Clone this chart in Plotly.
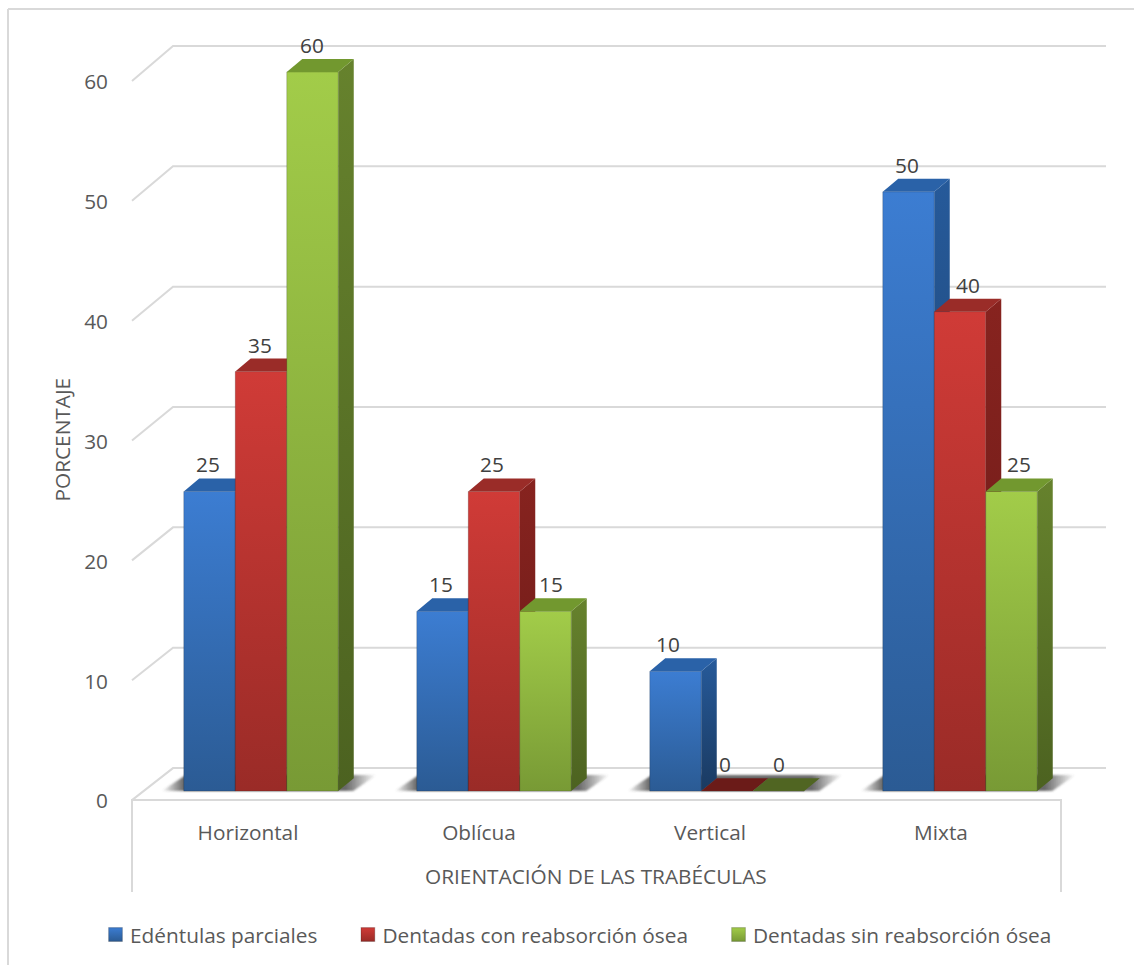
import json
import plotly.graph_objects as go

# Survey data: trabecular orientation by patient group (percent)
categories = ["Horizontal", "Oblícua", "Vertical", "Mixta"]
series_names = ["Edéntulas parciales", "Dentadas con reabsorción ósea", "Dentadas sin reabsorción ósea"]
edentulas = [25, 15, 10, 50]
con_reabsorcion = [35, 25, 0, 40]
sin_reabsorcion = [60, 15, 0, 25]
y_ticks = [0, 10, 20, 30, 40, 50, 60]
y_title = "PORCENTAJE"
x_title = "ORIENTACIÓN DE LAS TRABÉCULAS"

series_values = [edentulas, con_reabsorcion, sin_reabsorcion]

# Per-series palette: front top/bottom, side top/bottom, top face, top face of an empty bar
PALETTE = [
    dict(front=("#3C7DD2", "#2B5B94"), side=("#265A9A", "#1A3A61"), top="#2A62A8", flat="#1D4474"),
    dict(front=("#D03B37", "#9A2B27"), side=("#87231F", "#691A17"), top="#9A2C28", flat="#6B1B18"),
    dict(front=("#A2CC49", "#789A35"), side=("#66822D", "#4C6220"), top="#72982F", flat="#506522"),
]

PAGE_W, PAGE_H = 1134, 966
MARGIN = dict(l=112, r=20, t=20, b=66)
PLOT_W = PAGE_W - MARGIN["l"] - MARGIN["r"]
PLOT_H = PAGE_H - MARGIN["t"] - MARGIN["b"]
FONT = "Open Sans"
FONT_SIZE = 20.8

# Axis scales: one category is 233 px wide, one percentage point is 12 px tall
PX_PER_CAT = 233.0
PX_PER_UNIT = 12.0
X_RANGE = [-149.0 / PX_PER_CAT, 853.0 / PX_PER_CAT]
Y_RANGE = [-108.0 / PX_PER_UNIT, 772.0 / PX_PER_UNIT]

BAR_W = 51.5 / PX_PER_CAT
DEPTH_X = 15.5 / PX_PER_CAT
DEPTH_Y = 13.0 / PX_PER_UNIT

# Perspective frame: floor corners and wall extents in axis units
FRONT_Y = -0.75
WALL_Y = 1.92
WALL_SLOPE = 1.0042
FRONT_LEFT = -129.0 / PX_PER_CAT
BACK_LEFT = -88.0 / PX_PER_CAT
BACK_RIGHT = 845.0 / PX_PER_CAT
FRONT_RIGHT = 800.0 / PX_PER_CAT
FRAME_DROP = -101.0 / PX_PER_UNIT
GRID = "#D9D9D9"

gradients = {}
traces = []

# Walls and floor
for v in y_ticks:
    traces.append(go.Scatter(
        x=[FRONT_LEFT, BACK_LEFT, BACK_RIGHT],
        y=[v + FRONT_Y, v * WALL_SLOPE + WALL_Y, v * WALL_SLOPE + WALL_Y],
        mode="lines", line=dict(color=GRID, width=2), hoverinfo="skip",
        showlegend=False, zorder=-2,
    ))
traces.append(go.Scatter(
    x=[FRONT_LEFT, FRONT_LEFT, FRONT_RIGHT, FRONT_RIGHT],
    y=[FRAME_DROP, FRONT_Y, FRONT_Y, FRAME_DROP],
    mode="lines", line=dict(color=GRID, width=2), hoverinfo="skip",
    showlegend=False, zorder=-2,
))

# Soft floor shadow beneath each cluster, fading out on both sides
for c in range(len(categories)):
    left = c - 1.5 * BAR_W
    right = c + 1.5 * BAR_W
    sx = [left - 22 / PX_PER_CAT, left + 2 / PX_PER_CAT,
          right + 38 / PX_PER_CAT, right + 15 / PX_PER_CAT]
    sy = [0, DEPTH_Y * 1.25, DEPTH_Y * 1.25, 0]
    traces.append(go.Scatter(
        x=sx + sx[:1], y=sy + sy[:1], mode="lines", fill="toself",
        fillcolor="rgba(70,70,70,0.7)", line=dict(width=0), hoverinfo="skip",
        showlegend=False, zorder=-1, meta=dict(fill="shadow", blur=True),
    ))

# Clusters are painted left to right so a nearer bar hides its neighbour's side face
for s, (name, values, pal) in enumerate(zip(series_names, series_values, PALETTE)):
    xs = [c + (s - 1) * BAR_W for c in range(len(categories))]
    for n, face in (("front", pal["front"]), ("side", pal["side"])):
        gradients[f"{n}{s}"] = face

    traces.append(go.Bar(
        x=xs, y=values, width=BAR_W, name=name,
        marker=dict(color=pal["front"][0], line=dict(color="rgba(0,0,0,0.18)", width=1)),
        zorder=s + 1, meta=dict(fill=f"front{s}"),
        hovertemplate="%{y}<extra>" + name + "</extra>",
    ))
    for x, v in zip(xs, values):
        l, r = x - BAR_W / 2, x + BAR_W / 2
        # Right-hand side face
        traces.append(go.Scatter(
            x=[r, r + DEPTH_X, r + DEPTH_X, r, r],
            y=[0, DEPTH_Y, v + DEPTH_Y, v, 0],
            mode="lines", fill="toself", fillcolor=pal["side"][0], line=dict(width=0),
            hoverinfo="skip", showlegend=False, zorder=s + 1, meta=dict(fill=f"side{s}"),
        ))
        # Top face
        traces.append(go.Scatter(
            x=[l, l + DEPTH_X, r + DEPTH_X, r, l],
            y=[v, v + DEPTH_Y, v + DEPTH_Y, v, v],
            mode="lines", fill="toself", fillcolor=pal["top"] if v else pal["flat"],
            line=dict(width=0), hoverinfo="skip", showlegend=False, zorder=s + 1,
        ))

fig = go.Figure(traces)

# Value labels sit above each bar's top face
LABEL_LIFT = 27
LABEL_NUDGE = [[-2, -2, -8, -2], [-1, -2, -2, 8], [-1, 5, 0, 7]]
annotations = []
for s, values in enumerate(series_values):
    for c, v in enumerate(values):
        annotations.append(dict(
            x=c + (s - 1) * BAR_W, y=v, text=str(v), showarrow=False,
            xref="x", yref="y", xanchor="center", yanchor="middle",
            xshift=LABEL_NUDGE[s][c], yshift=LABEL_LIFT,
            font=dict(family=FONT, size=FONT_SIZE, color="#404040"),
        ))
paper_x = lambda px: (px - MARGIN["l"]) / PLOT_W
paper_y = lambda py: 1 - (py - MARGIN["t"]) / PLOT_H
annotations.append(dict(
    x=paper_x(62), y=paper_y(440), text=y_title,
    xref="paper", yref="paper", textangle=-90, showarrow=False,
    xanchor="center", yanchor="middle",
    font=dict(family=FONT, size=FONT_SIZE, color="#595959"),
))
annotations.append(dict(
    x=paper_x(595.5), y=paper_y(877), text=x_title,
    xref="paper", yref="paper", showarrow=False, xanchor="center", yanchor="middle",
    font=dict(family=FONT, size=FONT_SIZE, color="#595959"),
))

# Outer chart border (top and left edges lie on the page)
border = dict(type="line", xref="paper", yref="paper", line=dict(color=GRID, width=2), layer="below")
shapes = [
    {**border, "x0": paper_x(8), "x1": paper_x(1134), "y0": paper_y(9), "y1": paper_y(9)},
    {**border, "x0": paper_x(8), "x1": paper_x(8), "y0": paper_y(9), "y1": paper_y(966)},
]

# Category labels run on a slightly tighter pitch than the clusters above them
TICK_PITCH = 231.0 / PX_PER_CAT

fig.update_layout(
    width=PAGE_W, height=PAGE_H,
    margin=MARGIN,
    paper_bgcolor="white", plot_bgcolor="white",
    barmode="overlay",
    font=dict(family=FONT, color="#595959", size=FONT_SIZE),
    xaxis=dict(
        range=X_RANGE, tickmode="array",
        tickvals=[c * TICK_PITCH for c in range(len(categories))], ticktext=categories,
        anchor="free", position=paper_y(801),
        showgrid=False, zeroline=False, showline=False, ticks="",
        ticklabelshift=-13, ticklabelstandoff=18,
        tickfont=dict(family=FONT, size=FONT_SIZE, color="#595959"),
    ),
    yaxis=dict(
        range=Y_RANGE, tickmode="array", tickvals=y_ticks,
        showgrid=False, zeroline=False, showline=False, ticks="",
        ticklabelshift=10, ticklabelstandoff=3,
        tickfont=dict(family=FONT, size=FONT_SIZE, color="#595959"),
    ),
    legend=dict(
        orientation="h", x=paper_x(70), y=paper_y(935), xanchor="left", yanchor="middle",
        itemwidth=50,
        font=dict(family=FONT, size=FONT_SIZE, color="#595959"),
        itemclick=False, itemdoubleclick=False, traceorder="normal",
    ),
    annotations=annotations,
    shapes=shapes,
)

# plotly has no gradient fill for bars, so the SVG fills are attached once the plot has settled
post_script = """
var gd = document.getElementById('{plot_id}');
var GRADS = %s;
var NS = 'http://www.w3.org/2000/svg';
function stop(parent, offset, color, opacity) {
  var st = document.createElementNS(NS, 'stop');
  st.setAttribute('offset', offset);
  st.setAttribute('stop-color', color);
  st.setAttribute('stop-opacity', opacity);
  parent.appendChild(st);
}
function ensureDefs() {
  if (document.getElementById('floor-blur')) return;
  var host = document.createElementNS(NS, 'svg');
  host.setAttribute('width', '0'); host.setAttribute('height', '0');
  host.style.position = 'absolute';
  var defs = document.createElementNS(NS, 'defs');
  host.appendChild(defs);
  document.body.insertBefore(host, document.body.firstChild);
  Object.keys(GRADS).forEach(function (k) {
    var g = document.createElementNS(NS, 'linearGradient');
    g.setAttribute('id', 'grad-' + k);
    g.setAttribute('x1', '0'); g.setAttribute('y1', '0');
    g.setAttribute('x2', '0'); g.setAttribute('y2', '1');
    stop(g, 0, GRADS[k][0], 1);
    stop(g, 1, GRADS[k][1], 1);
    defs.appendChild(g);
  });
  var sh = document.createElementNS(NS, 'linearGradient');
  sh.setAttribute('id', 'grad-shadow');
  sh.setAttribute('x1', '0'); sh.setAttribute('x2', '1');
  sh.setAttribute('y1', '0'); sh.setAttribute('y2', '0');
  stop(sh, 0, '#505050', 0);
  stop(sh, 0.10, '#505050', 0.85);
  stop(sh, 0.86, '#505050', 0.85);
  stop(sh, 1, '#505050', 0);
  defs.appendChild(sh);
  var blur = document.createElementNS(NS, 'filter');
  blur.setAttribute('id', 'floor-blur');
  blur.setAttribute('x', '-10%%'); blur.setAttribute('y', '-60%%');
  blur.setAttribute('width', '120%%'); blur.setAttribute('height', '220%%');
  var fe = document.createElementNS(NS, 'feGaussianBlur');
  fe.setAttribute('stdDeviation', '1.2');
  blur.appendChild(fe);
  defs.appendChild(blur);
}
function metaOf(el) {
  var d = el.__data__;
  if (!d) return null;
  var first = Array.isArray(d) ? d[0] : d;
  if (Array.isArray(first)) first = first[0];
  return first && first.trace ? first.trace.meta : null;
}
function applyFills() {
  ensureDefs();
  gd.querySelectorAll('g.trace').forEach(function (el) {
    var m = metaOf(el);
    if (!m) return;
    el.querySelectorAll('path').forEach(function (p) {
      var cls = p.getAttribute('class') || '';
      if (cls.indexOf('js-line') >= 0) return;
      if (m.blur) {
        p.style.setProperty('filter', 'url(#floor-blur)');
        p.style.setProperty('fill', 'url(#grad-shadow)');
        p.style.setProperty('fill-opacity', '1');
      } else if (GRADS[m.fill]) {
        p.style.setProperty('fill', 'url(#grad-' + m.fill + ')');
      }
    });
  });
  gd.querySelectorAll('.legend .traces').forEach(function (el) {
    var m = metaOf(el);
    var pts = el.querySelector('.legendpoints');
    if (pts) pts.setAttribute('transform', 'translate(11,0) scale(1.15)');
    if (m && GRADS[m.fill]) el.querySelectorAll('.legendpoints path').forEach(function (p) {
      p.style.setProperty('fill', 'url(#grad-' + m.fill + ')');
    });
  });
}
[0, 30, 100, 250, 500, 1000, 2000].forEach(function (t) { setTimeout(applyFills, t); });
gd.on('plotly_afterplot', applyFills);
""" % json.dumps(gradients)

fig.write_html("out.html", post_script=post_script, config=dict(displayModeBar=False))
